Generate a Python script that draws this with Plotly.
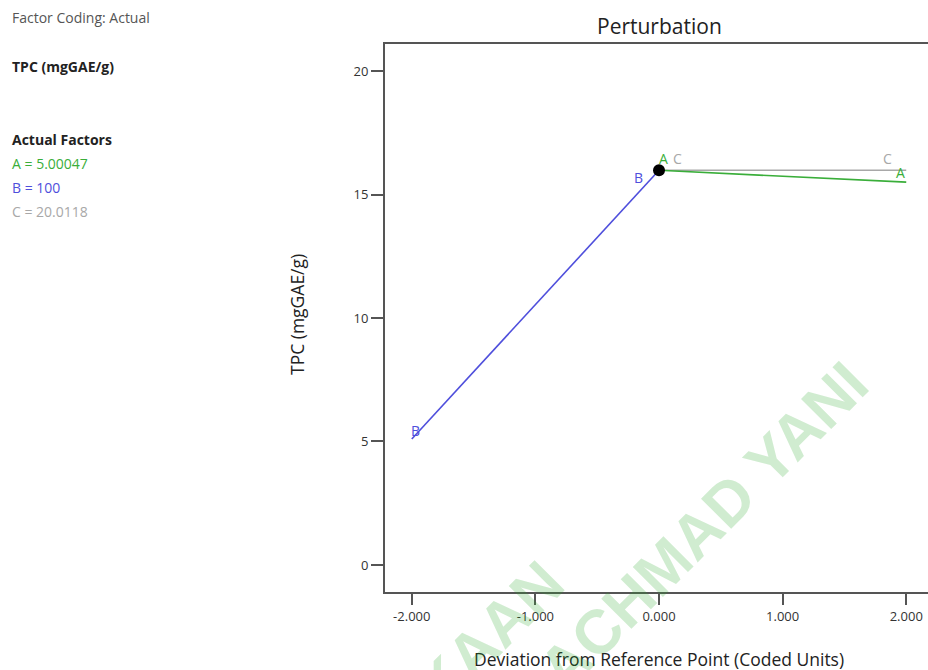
import plotly.graph_objects as go

# ---- data ----
a_x = [0.0, 2.0]
a_y = [15.98, 15.50]
b_x = [-2.0, 0.0]
b_y = [5.10, 15.98]
c_x = [0.0, 2.0]
c_y = [15.98, 15.98]
ref_x = [0.0]
ref_y = [15.98]

x_tickvals = [-2, -1, 0, 1, 2]
x_ticktext = ["-2.000", "-1.000", "0.000", "1.000", "2.000"]
y_tickvals = [0, 5, 10, 15, 20]
y_ticktext = ["0", "5", "10", "15", "20"]

factor_lines = ["A = 5.00047", "B = 100", "C = 20.0118"]

COL_A = "#3aae3a"
COL_B = "#4f4fdc"
COL_C = "#a8a8a8"
AX = "#555555"
FONT = "Open Sans"

# layout geometry (pixels)
W, H = 928, 670
L, R, T, B = 385, 0, 44, 78
PW, PH = W - L - R, H - T - B


def px(xpix, ypix):
    return (xpix - L) / PW, (H - B - ypix) / PH


fig = go.Figure()
fig.add_trace(go.Scatter(x=c_x, y=c_y, mode="lines", line=dict(color=COL_C, width=1.6), showlegend=False))
fig.add_trace(go.Scatter(x=a_x, y=a_y, mode="lines", line=dict(color=COL_A, width=1.6), showlegend=False))
fig.add_trace(go.Scatter(x=b_x, y=b_y, mode="lines", line=dict(color=COL_B, width=1.6), showlegend=False))
fig.add_trace(go.Scatter(x=ref_x, y=ref_y, mode="markers", marker=dict(color="black", size=12), showlegend=False))

ann = []

# end labels of the perturbation lines (data coords, small pixel offsets)
def lab(text, x, y, col, dx, dy):
    ann.append(dict(x=x, y=y, xref="x", yref="y", text=text, showarrow=False,
                    xanchor="center", yanchor="middle",
                    font=dict(family=FONT, size=14, color=col), xshift=dx, yshift=dy))

lab("B", b_x[0], b_y[0], COL_B, 4, 9)
lab("B", b_x[1], b_y[1], COL_B, -21, -7)
lab("A", a_x[0], a_y[0], COL_A, 4, 12)
lab("C", c_x[0], c_y[0], COL_C, 18, 12)
lab("C", c_x[1], c_y[1], COL_C, -19, 12)
lab("A", a_x[1], a_y[1], COL_A, -6, 10)


def pann(text, xpix, ypix, size, col, family=FONT, angle=0, xanchor="center"):
    x0, y0 = px(xpix, ypix)
    ann.append(dict(x=x0, y=y0, xref="paper", yref="paper", text=text, showarrow=False,
                    xanchor=xanchor, yanchor="middle", textangle=angle,
                    font=dict(family=family, size=size, color=col)))


# title & axis titles
pann("Perturbation", 659, 26, 21, "#222")
pann("Deviation from Reference Point (Coded Units)", 659, 659, 17.5, "#222")
pann("TPC (mgGAE/g)", 297, 315, 17.5, "#222", angle=-90)

# left info block
pann("Factor Coding: Actual", 10, 17, 14, "#555555", xanchor="left")
pann("<b>TPC (mgGAE/g)</b>", 10, 67, 14, "#222222", xanchor="left")
pann("<b>Actual Factors</b>", 10, 139, 14, "#222222", xanchor="left")
pann(factor_lines[0], 10, 163, 14, COL_A, xanchor="left")
pann(factor_lines[1], 10, 187, 14, COL_B, xanchor="left")
pann(factor_lines[2], 10, 211, 14, COL_C, xanchor="left")

# watermark
WM = "rgba(40,170,40,0.22)"
pann("<b>PERPUSTAKAAN</b>", 371, 753, 62, WM, family="Liberation Sans", angle=-45)
pann("<b>ACHMAD YANI</b>", 703, 526, 62, WM, family="Liberation Sans", angle=-45)

fig.update_layout(
    width=W, height=H,
    margin=dict(l=L, r=R, t=T, b=B, pad=0),
    paper_bgcolor="white", plot_bgcolor="white",
    annotations=ann,
    xaxis=dict(range=[-2.2166, 2.2166 - (933 - W) / 123.3], tickvals=x_tickvals, ticktext=x_ticktext,
               showgrid=False, zeroline=False, showline=True, linecolor=AX, linewidth=2, mirror=True,
               ticks="outside", ticklen=11, tickwidth=1.5, tickcolor=AX,
               tickfont=dict(family=FONT, size=13, color="#333")),
    yaxis=dict(range=[-1.094, 21.094], tickvals=y_tickvals, ticktext=y_ticktext,
               showgrid=False, zeroline=False, showline=True, linecolor=AX, linewidth=2,
               ticks="outside", ticklen=12, tickwidth=1.5, tickcolor=AX,
               tickfont=dict(family=FONT, size=13, color="#333")),
)

fig.write_html("out.html", config={"displayModeBar": False},
               post_script="document.body.style.margin='0';document.body.style.overflow='hidden';")
